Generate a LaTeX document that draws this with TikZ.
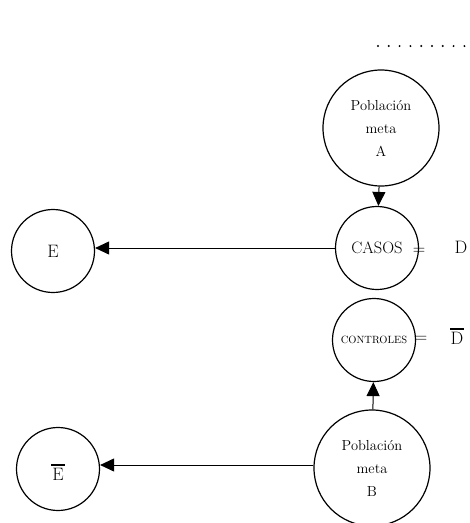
\documentclass[tikz,border=0pt]{standalone}
\usetikzlibrary{arrows.meta}
% letter with a bar drawn above it
\newcommand{\barletter}[1]{\begin{tabular}{@{}c@{}}\rule{0.75em}{1.1pt}\\[-5pt]#1\end{tabular}}
\begin{document}
\begin{tikzpicture}[x=1pt,y=-1pt,
  big/.style={draw, circle, line width=1.2pt, minimum size=116pt, inner sep=0pt, align=center,
    font=\fontsize{14.5}{23}\selectfont},
  mid/.style={draw, circle, line width=1.2pt, minimum size=83pt, inner sep=0pt, align=center},
  link/.style={line width=1pt, -{Triangle[length=14pt,width=13pt]}},
  eqlabel/.style={font=\fontsize{18}{20}\selectfont, inner sep=1pt}]
  \useasboundingbox (0,0) rectangle (470,523);
  % dotted line at the top right
  \draw[line width=2.2pt, line cap=round, dash pattern=on 0pt off 10.8pt] (378,46) -- (466,46);
  % target populations
  \node[big] (A) at (381,128) {Población\\meta\\A};
  \node[big] (B) at (372,468) {Población\\meta\\B};
  % cases and controls
  \node[mid, font=\fontsize{16.5}{18}\selectfont] (cas) at (377,248) {CASOS};
  \node[mid, font=\fontsize{10.5}{12}\selectfont] (con) at (374,340) {CONTROLES};
  % exposure
  \node[mid, font=\fontsize{18}{20}\selectfont] (E) at (53,251) {E};
  \node[mid, font=\fontsize{18}{20}\selectfont] (Eb) at (58,469) {\barletter{E}};
  % equalities
  \node[eqlabel] (eq1) at (419,251) {$=$};
  \node[eqlabel] (D1) at (461,247) {D};
  \node[eqlabel] (eq2) at (421,339) {$=$};
  \node[eqlabel] (D2) at (457,333) {\barletter{D}};
  % connectors
  \draw[link] (A) -- (cas);
  \draw[link] (B) -- (con);
  \draw[link] (cas.west) -- (E.east |- cas.west);
  \draw[link] (B.west |- 0,465) -- (Eb.east |- 0,465);
\end{tikzpicture}
\end{document}
